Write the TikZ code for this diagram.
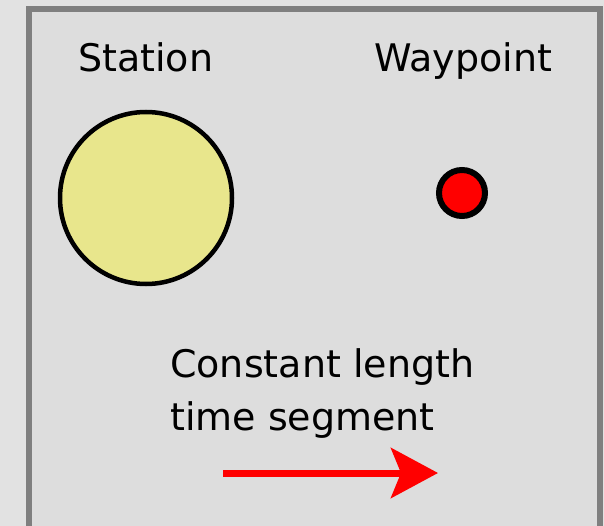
\documentclass[tikz,border=0pt]{standalone}
\usepackage{fontspec}
\setmainfont{DejaVu Sans}
\usetikzlibrary{arrows.meta}
\definecolor{outerbg}{HTML}{E2E2E2}
\definecolor{innerbg}{HTML}{DDDDDD}
\definecolor{framegray}{HTML}{7F7F7F}
\definecolor{stationfill}{HTML}{E8E68C}
\tikzset{
  lbl/.style={anchor=base west, inner sep=0pt, align=left, font=\fontsize{38}{53}\selectfont},
  bigarrow/.style={draw=red, line width=7pt, -{Stealth[length=47pt, width=50pt, inset=10pt, fill=red]}}
}
\begin{document}
\begin{tikzpicture}[x=1pt,y=-1pt]
\useasboundingbox (0,0) rectangle (604,526);
\fill[outerbg] (0,0) rectangle (604,526);
\draw[framegray, line width=6pt, fill=innerbg] (29,9) rectangle (600,530);
\node[lbl] (station) at (78,72) {Station};
\node[lbl] (waypoint) at (374,72) {Waypoint};
\node[circle, draw=black, line width=4.5pt, fill=stationfill, minimum size=172pt, inner sep=0pt] (stc) at (146,198) {};
\node[circle, draw=black, line width=6pt, fill=red, minimum size=46pt, inner sep=0pt] (wpc) at (462,193) {};
\node[lbl] (txt) at (170,430) {Constant length\\time segment};
\coordinate (a0) at (223,473);
\coordinate (a1) at (438,473);
\draw[bigarrow] (a0) -- (a1);
\end{tikzpicture}
\end{document}
